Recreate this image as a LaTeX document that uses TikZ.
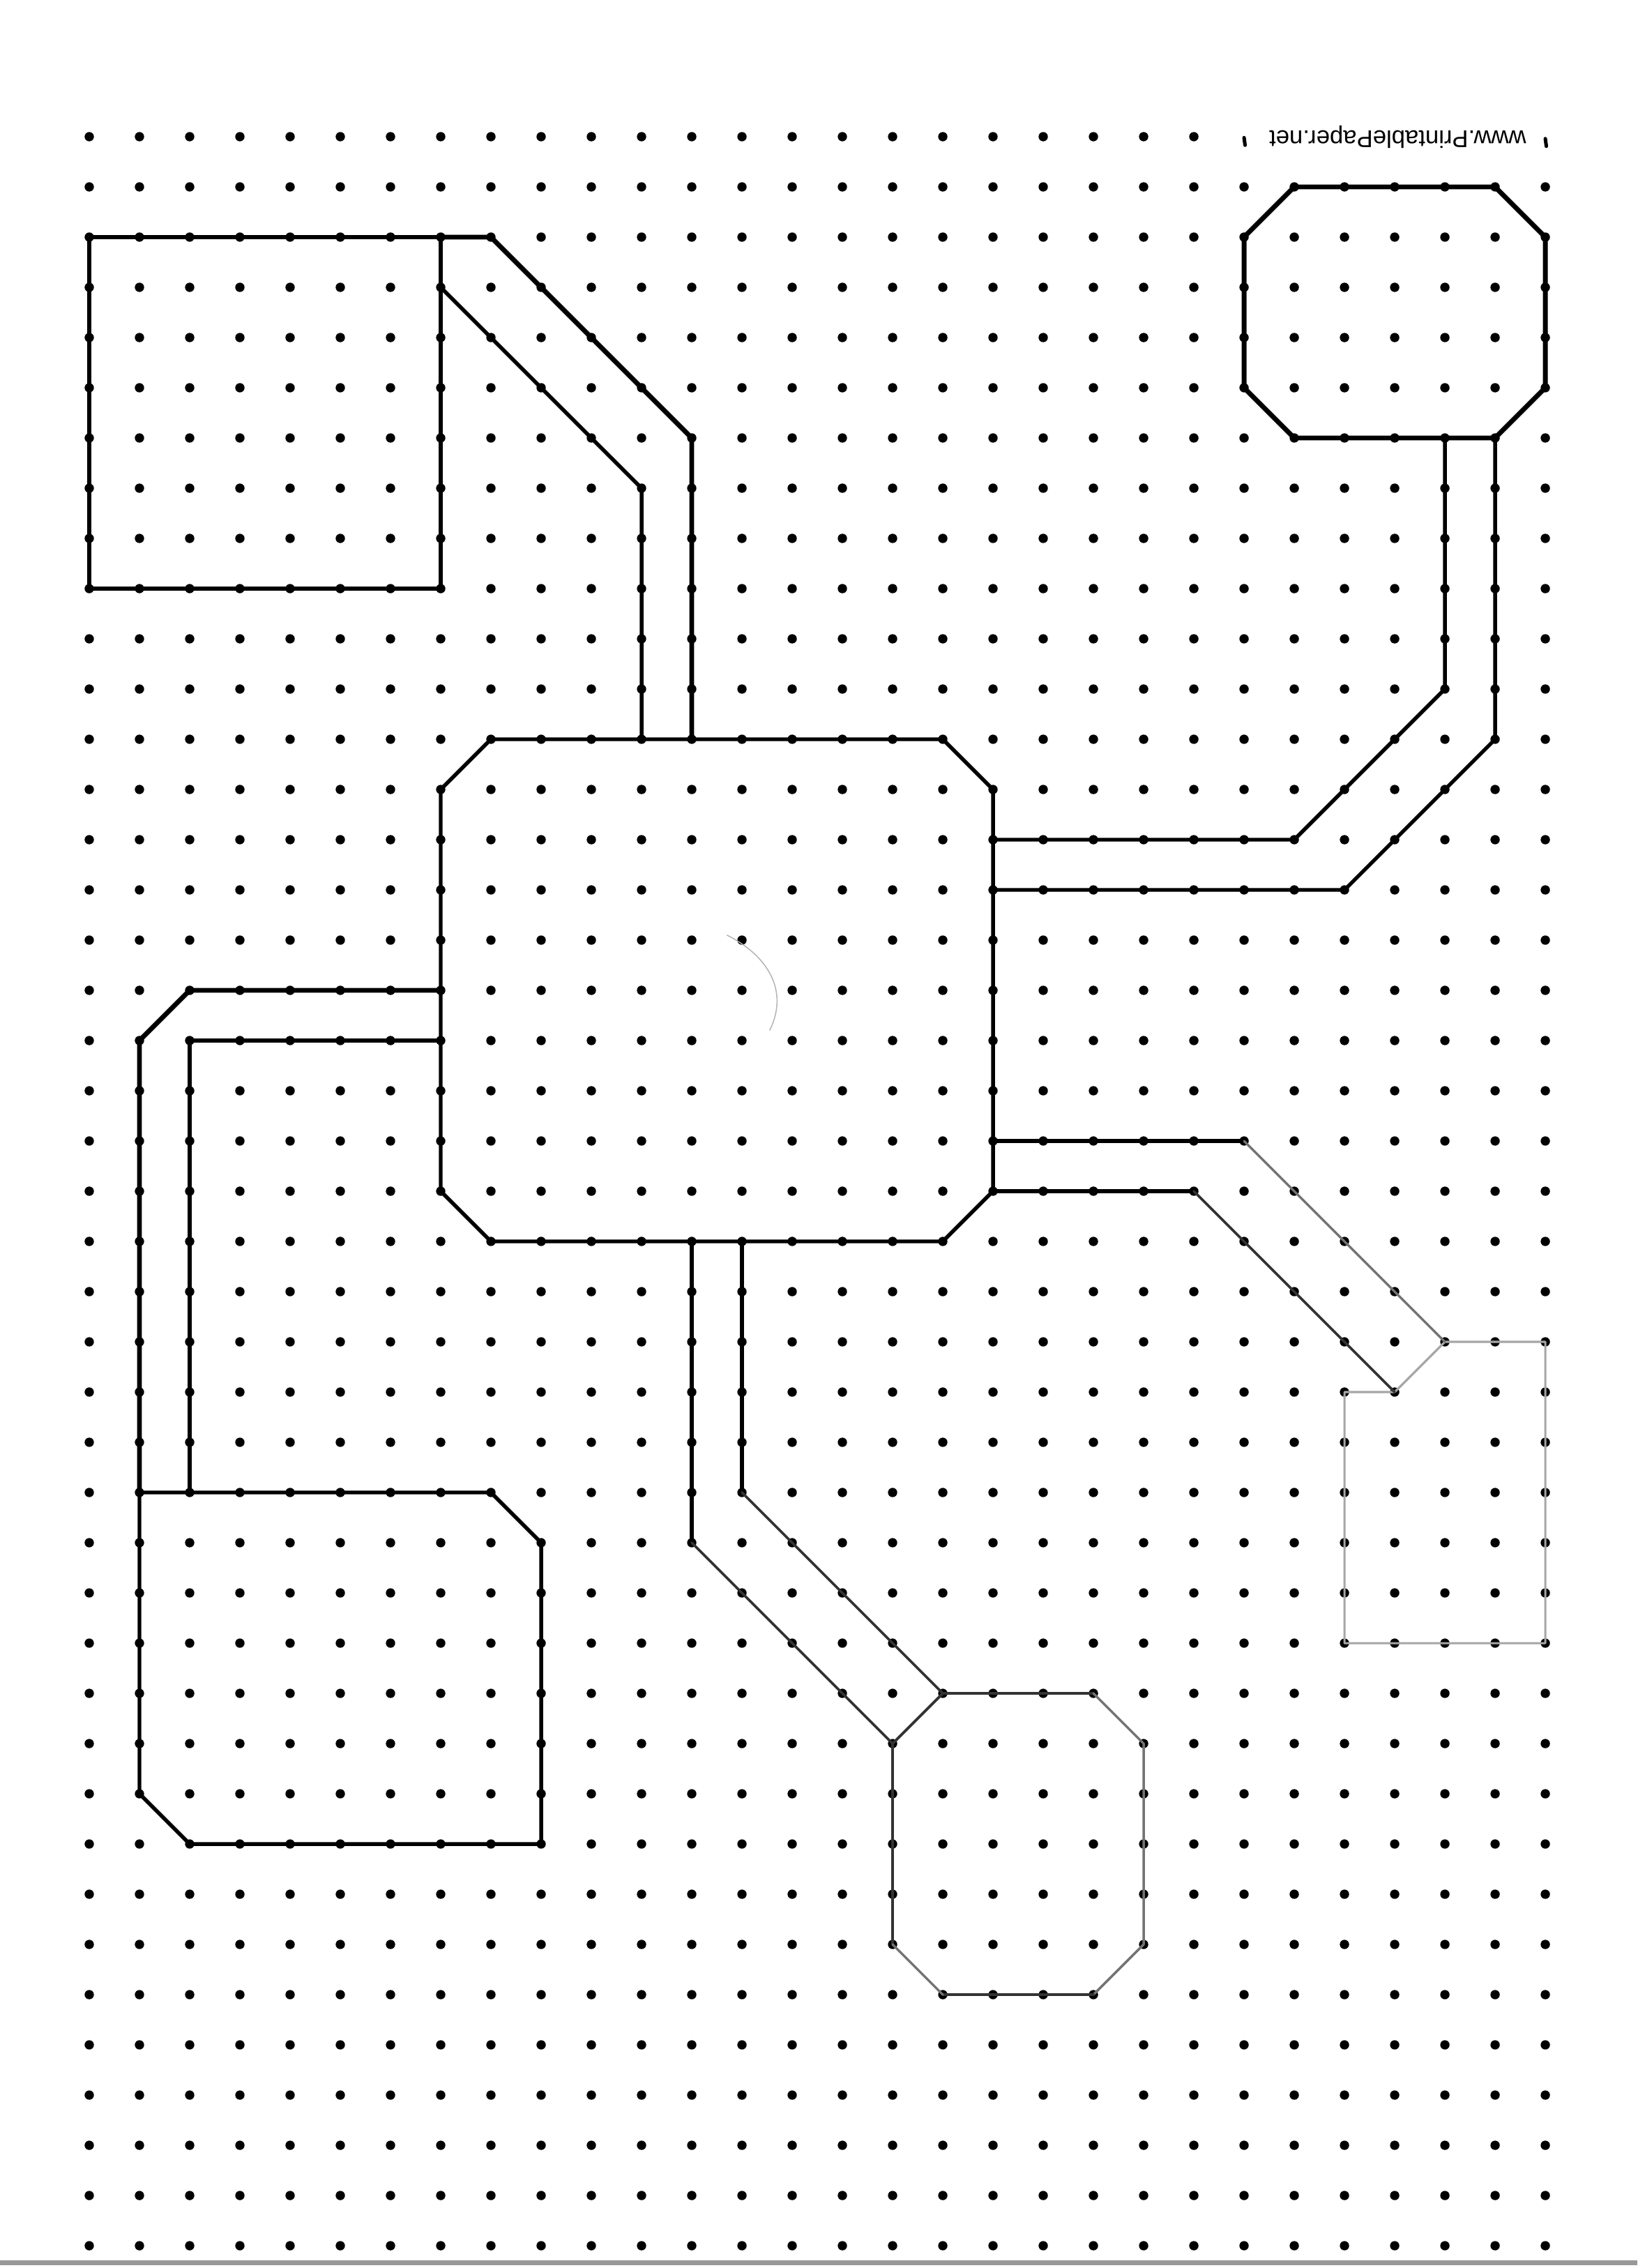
\documentclass[tikz,border=0pt]{standalone}
\usepackage{fontspec}
\usepackage{tikz}
\newfontfamily\sitefont{Liberation Sans}

\begin{document}
\begin{tikzpicture}[
  x=0.7cm, y=-0.7cm,
  pen/.style={draw=black,line width=1.9pt,line join=round,line cap=round},
  pen2/.style={draw=black,line width=1.5pt,line join=round,line cap=round},
  thinpen/.style={draw=black!80,line width=1.05pt,line join=round,line cap=round},
  pencil/.style={draw=black!55,line width=0.95pt,line join=round,line cap=round},
  faint/.style={draw=black!35,line width=0.85pt,line join=round,line cap=round},
  tick/.style={line width=1.4pt,line cap=round}
]
\useasboundingbox (-1.778,-2.722) rectangle (30.833,42.444);
\fill[white] (-1.778,-2.722) rectangle (30.833,42.444);
\fill[black!40] (-1.778,42.29) rectangle (30.833,42.39);
% dot paper
\foreach \c in {0,...,22}
  \fill (\c,0) circle (1.85pt);
\foreach \r in {1,...,42}
  \foreach \c in {0,...,29}
    \fill (\c,\r) circle (1.85pt);
\draw[tick] (23,0.02) -- (23.02,0.17);
\draw[tick] (29,0.04) -- (29.02,0.19);
\node[font={\sitefont\fontsize{9.6}{11}\selectfont},rotate=180,inner sep=0pt] (site) at (26.06,0) {www.PrintablePaper.net};
% blocks
\draw[pen] (0,2) rectangle (7,9);
\draw[pen2] (8,12) -- (17,12) -- (18,13) -- (18,21) -- (17,22) -- (8,22) -- (7,21) -- (7,13) -- cycle;
\draw[pen] (24,1) -- (28,1) -- (29,2) -- (29,5) -- (28,6) -- (24,6) -- (23,5) -- (23,2) -- cycle;
\draw[pen2] (1,27) -- (8,27) -- (9,28) -- (9,34) -- (2,34) -- (1,33) -- cycle;
\draw[thinpen] (16,36) -- (16,32) -- (17,31) -- (20,31);
\draw[pencil] (20,31) -- (21,32) -- (21,36) -- (20,37);
\draw[thinpen] (20,37) -- (17,37);
\draw[pencil] (17,37) -- (16,36);
\draw[faint] (26,25) -- (27,24) -- (29,24) -- (29,30) -- (25,30) -- (25,25) -- (26,25);
% channels
\draw[pen] (7,2) -- (8,2) -- (12,6) -- (12,12);
\draw[pen2] (7,3) -- (11,7) -- (11,12);
\draw[pen2] (18,14) -- (24,14) -- (27,11) -- (27,6);
\draw[pen2] (18,15) -- (25,15) -- (28,12) -- (28,6);
\draw[pen] (7,17) -- (2,17) -- (1,18) -- (1,27);
\draw[pen] (7,18) -- (2,18) -- (2,27);
\draw[pen2] (12,22) -- (12,28);
\draw[thinpen] (12,28) -- (16,32);
\draw[pen2] (13,22) -- (13,27);
\draw[thinpen] (13,27) -- (17,31);
\draw[pen2] (18,20) -- (23,20);
\draw[pencil] (23,20) -- (27,24);
\draw[pen2] (18,21) -- (22,21);
\draw[thinpen] (22,21) -- (26,25);
\draw[black!30,line width=0.4pt] (12.7,15.9) .. controls (13.5,16.3) and (13.95,17.0) .. (13.55,17.8);
\end{tikzpicture}
\end{document}
